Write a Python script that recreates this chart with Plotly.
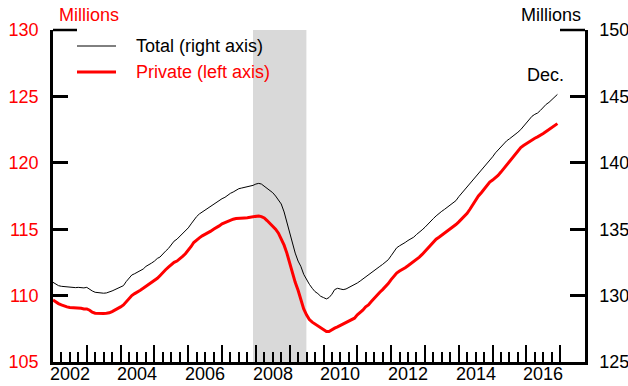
import pandas as pd
import plotly.graph_objects as go

# ---------------- data (millions, monthly Jan 2002 - Dec 2016) ----------------
total_right_axis = [
    131.00, 130.85, 130.75, 130.70, 130.68, 130.65, 130.62, 130.60, 130.60, 130.62, 130.60, 130.58,  # 2002
    130.62, 130.45, 130.35, 130.25, 130.22, 130.20, 130.18, 130.20, 130.25, 130.35, 130.45, 130.55,  # 2003
    130.65, 130.75, 131.05, 131.30, 131.55, 131.65, 131.75, 131.85, 132.00, 132.20, 132.30, 132.45,  # 2004
    132.60, 132.80, 132.90, 133.15, 133.35, 133.55, 133.85, 134.10, 134.25, 134.45, 134.70, 134.85,  # 2005
    135.10, 135.40, 135.70, 135.95, 136.15, 136.30, 136.45, 136.60, 136.75, 136.85, 137.00, 137.15,  # 2006
    137.30, 137.40, 137.55, 137.70, 137.80, 137.95, 138.05, 138.10, 138.15, 138.20, 138.20, 138.30,  # 2007
    138.40, 138.45, 138.40, 138.25, 138.10, 137.95, 137.75, 137.50, 137.20, 136.90, 136.30, 135.50,  # 2008
    134.70, 133.90, 133.20, 132.60, 132.20, 131.60, 131.20, 130.85, 130.55, 130.30, 130.15, 129.95,  # 2009
    129.85, 129.75, 129.85, 130.10, 130.45, 130.55, 130.50, 130.45, 130.50, 130.60, 130.70, 130.85,  # 2010
    130.95, 131.10, 131.25, 131.45, 131.60, 131.75, 131.90, 132.05, 132.20, 132.35, 132.50, 132.70,  # 2011
    133.00, 133.35, 133.60, 133.75, 133.85, 134.00, 134.15, 134.25, 134.40, 134.60, 134.75, 134.95,  # 2012
    135.15, 135.40, 135.60, 135.80, 136.00, 136.20, 136.35, 136.50, 136.65, 136.80, 137.00, 137.15,  # 2013
    137.45, 137.70, 137.90, 138.15, 138.40, 138.65, 138.90, 139.15, 139.40, 139.65, 139.95, 140.20,  # 2014
    140.45, 140.75, 140.95, 141.20, 141.45, 141.65, 141.80, 141.95, 142.10, 142.30, 142.50, 142.75,  # 2015
    143.00, 143.30, 143.50, 143.65, 143.75, 143.95, 144.20, 144.40, 144.55, 144.75, 144.95, 145.15,  # 2016
]

private_left_axis = [
    109.67, 109.50, 109.40, 109.30, 109.20, 109.15, 109.10, 109.10, 109.08, 109.10, 109.05, 109.00,  # 2002
    109.00, 108.90, 108.75, 108.67, 108.65, 108.65, 108.65, 108.67, 108.70, 108.80, 108.90, 109.00,  # 2003
    109.15, 109.30, 109.55, 109.80, 110.00, 110.15, 110.25, 110.40, 110.55, 110.70, 110.85, 111.00,  # 2004
    111.10, 111.30, 111.50, 111.75, 111.95, 112.15, 112.35, 112.50, 112.60, 112.75, 112.95, 113.15,  # 2005
    113.40, 113.70, 114.00, 114.20, 114.35, 114.50, 114.60, 114.70, 114.85, 115.00, 115.10, 115.25,  # 2006
    115.40, 115.50, 115.60, 115.65, 115.75, 115.80, 115.80, 115.82, 115.85, 115.87, 115.90, 115.95,  # 2007
    116.00, 116.00, 115.95, 115.85, 115.65, 115.45, 115.20, 115.00, 114.70, 114.30, 113.80, 113.20,  # 2008
    112.40, 111.70, 111.00, 110.40, 109.70, 109.00, 108.55, 108.20, 108.00, 107.85, 107.70, 107.55,  # 2009
    107.40, 107.30, 107.30, 107.45, 107.55, 107.65, 107.75, 107.85, 107.95, 108.05, 108.15, 108.30,  # 2010
    108.55, 108.70, 108.90, 109.15, 109.30, 109.55, 109.80, 110.05, 110.25, 110.45, 110.65, 110.90,  # 2011
    111.20, 111.50, 111.70, 111.85, 111.95, 112.10, 112.25, 112.40, 112.60, 112.75, 112.90, 113.10,  # 2012
    113.35, 113.60, 113.80, 114.05, 114.25, 114.40, 114.55, 114.70, 114.85, 115.00, 115.20, 115.35,  # 2013
    115.55, 115.75, 115.95, 116.20, 116.50, 116.85, 117.20, 117.50, 117.75, 118.00, 118.30, 118.55,  # 2014
    118.70, 118.85, 119.05, 119.30, 119.55, 119.80, 120.05, 120.35, 120.60, 120.90, 121.15, 121.30,  # 2015
    121.45, 121.60, 121.70, 121.85, 121.95, 122.05, 122.20, 122.35, 122.50, 122.65, 122.80, 122.95,  # 2016
]

start_month = "2002-01-01"
year_labels = ["2002", "2004", "2006", "2008", "2010", "2012", "2014", "2016"]
left_ticks = [105, 110, 115, 120, 125, 130]
right_ticks = [125, 130, 135, 140, 145, 150]
recession = ("2007-12-01", "2009-06-30")

months = pd.date_range(start_month, periods=len(total_right_axis), freq="MS")

FONT = "Liberation Sans, Arial, sans-serif"
FS = 18
RED = "#ff0000"

fig = go.Figure()
fig.add_trace(go.Scatter(x=months, y=private_left_axis, mode="lines",
                         line=dict(color=RED, width=3), yaxis="y", showlegend=False))
fig.add_trace(go.Scatter(x=months, y=total_right_axis, mode="lines",
                         line=dict(color="black", width=1), yaxis="y2", showlegend=False))

years = list(range(2002, 2018))
major = [f"{y}-01-01" for y in years]
minor = [f"{y}-{m:02d}-01" for y in years[:-1] for m in (4, 7, 10)]

fig.update_layout(
    width=628, height=386,
    margin=dict(l=53, r=43, t=30, b=24, autoexpand=False),
    paper_bgcolor="white", plot_bgcolor="white",
    font=dict(family=FONT, size=FS, color="black"),
    xaxis=dict(
        type="date", range=["2002-01-01", "2017-09-25"], automargin=False,
        showgrid=False, zeroline=False,
        showline=True, linecolor="black", linewidth=2.5,
        tickmode="array", tickvals=major, ticks="inside", ticklen=17, tickwidth=2,
        tickcolor="black", showticklabels=False,
        minor=dict(tickmode="array", tickvals=minor, ticks="inside", ticklen=10,
                   tickwidth=2, tickcolor="black", showgrid=False),
    ),
    yaxis=dict(
        range=[105, 130], tickmode="array", tickvals=left_ticks, automargin=False,
        showgrid=False, zeroline=False,
        showline=True, linecolor="black", linewidth=2.5,
        ticks="inside", ticklen=15, tickwidth=2.5, tickcolor="black",
        tickfont=dict(color=RED, size=FS, family=FONT), ticklabelstandoff=8,
    ),
    yaxis2=dict(
        range=[125, 150], tickmode="array", tickvals=right_ticks, automargin=False,
        overlaying="y", side="right", anchor="x",
        showgrid=False, zeroline=False,
        showline=True, linecolor="black", linewidth=2.5,
        ticks="inside", ticklen=15, tickwidth=2.5, tickcolor="black",
        tickfont=dict(color="black", size=FS, family=FONT), ticklabelstandoff=8,
    ),
)

# recession shading
fig.add_shape(type="rect", xref="x", yref="paper", x0=recession[0], x1=recession[1],
              y0=0, y1=1, fillcolor="#d9d9d9", line=dict(width=0), layer="below")

PW, PH = 532.0, 332.0
# longer top ticks
fig.add_shape(type="line", xref="paper", yref="paper", x0=0, x1=24 / PW, y0=1, y1=1,
              line=dict(color="black", width=2.5))
fig.add_shape(type="line", xref="paper", yref="paper", x0=1 - 25 / PW, x1=1, y0=1, y1=1,
              line=dict(color="black", width=2.5))

# legend (custom)
fig.add_shape(type="line", xref="paper", yref="paper", x0=24 / PW, x1=63 / PW,
              y0=1 - 16 / PH, y1=1 - 16 / PH, line=dict(color="black", width=1))
fig.add_shape(type="line", xref="paper", yref="paper", x0=24 / PW, x1=63 / PW,
              y0=1 - 42 / PH, y1=1 - 42 / PH, line=dict(color=RED, width=3))
fig.add_annotation(text="Total (right axis)", xref="paper", yref="paper",
                   x=81 / PW, y=1 - 16 / PH, xanchor="left", yanchor="middle",
                   showarrow=False, font=dict(color="black", size=FS, family=FONT))
fig.add_annotation(text="Private (left axis)", xref="paper", yref="paper",
                   x=81 / PW, y=1 - 42 / PH, xanchor="left", yanchor="middle",
                   showarrow=False, font=dict(color=RED, size=FS, family=FONT))

# axis titles
fig.add_annotation(text="Millions", xref="paper", yref="paper", x=4 / PW, y=1 + 15 / PH,
                   xanchor="left", yanchor="middle", showarrow=False,
                   font=dict(color=RED, size=FS, family=FONT))
fig.add_annotation(text="Millions", xref="paper", yref="paper", x=530 / PW, y=1 + 15 / PH,
                   xanchor="right", yanchor="middle", showarrow=False,
                   font=dict(color="black", size=FS, family=FONT))
fig.add_annotation(text="Dec.", xref="paper", yref="paper", x=472 / PW, y=1 - 45 / PH,
                   xanchor="left", yanchor="middle", showarrow=False,
                   font=dict(color="black", size=FS, family=FONT))

# year labels at mid-year
for lab in year_labels:
    fig.add_annotation(text=lab, xref="x", yref="paper", x=f"{lab}-07-01", y=-12 / PH,
                       xanchor="center", yanchor="middle", showarrow=False,
                       font=dict(color="black", size=FS, family=FONT))

fig.write_html("out.html", config={"displayModeBar": False},
               post_script="document.body.style.margin='0';")
